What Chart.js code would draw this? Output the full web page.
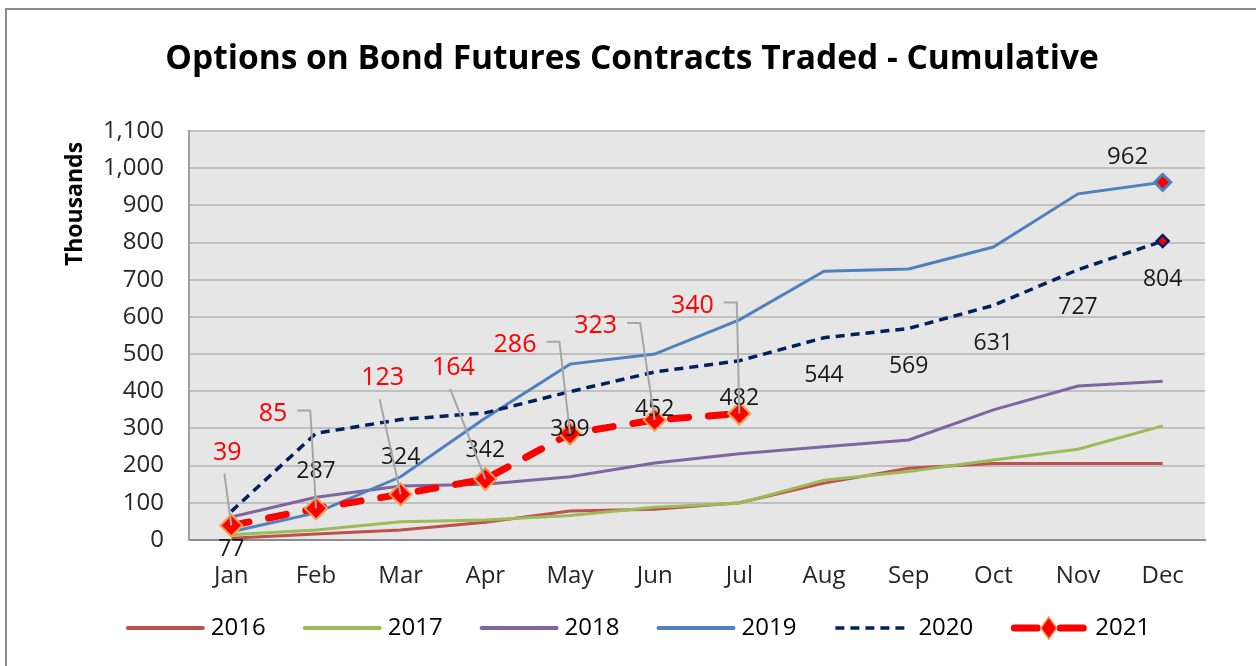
<!DOCTYPE html>
<html>
<head>
<meta charset="utf-8">
<title>Options on Bond Futures Contracts Traded - Cumulative</title>
<script src="https://cdn.jsdelivr.net/npm/chart.js@4.4.0/dist/chart.umd.min.js"></script>
<style>
  html, body { margin: 0; padding: 0; background: #fff; }
  #wrap { width: 1256px; height: 666px; }
</style>
</head>
<body>
<div id="wrap"><canvas id="chart" width="1256" height="666"></canvas></div>
<script>
// data (thousands of contracts, cumulative)
const months = ["Jan", "Feb", "Mar", "Apr", "May", "Jun", "Jul", "Aug", "Sep", "Oct", "Nov", "Dec"];
const years = ["2016", "2017", "2018", "2019", "2020", "2021"];
const v2016 = [5, 16, 27, 48, 78, 83, 100, 153, 193, 206, 206, 206];
const v2017 = [14, 27, 49, 54, 66, 88, 99, 161, 184, 215, 244, 307];
const v2018 = [62, 115, 145, 150, 170, 207, 232, 251, 269, 350, 414, 427];
const v2019 = [22, 73, 170, 328, 473, 500, 592, 723, 729, 788, 931, 962];
const v2020 = [77, 287, 324, 342, 399, 452, 482, 544, 569, 631, 727, 804];
const v2021 = [39, 85, 123, 164, 286, 323, 340, null, null, null, null, null];
const yMin = 0, yMax = 1100, yStep = 100;

const FONT = '"Open Sans", "DejaVu Sans", sans-serif';
const colors = ["#c0504d", "#9bbb59", "#8064a2", "#4f81bd", "#002060", "#ff0000"];

// where the red 2021 labels sit relative to their point, and how the leader line runs
const redLabelPos = [
  [-4, -73, "below"], [-43, -95, "side"], [-18, -116, "below"], [-32, -111, "below"],
  [-55, -89, "side"], [-59, -94, "side"], [-47, -108, "side"]
];

function lastOnly(n, r) {
  return months.map((m, i) => (i === n - 1 ? r : 0));
}

const datasets = [
  { label: years[0], data: v2016, borderColor: colors[0], borderWidth: 3, pointRadius: 0, order: 5 },
  { label: years[1], data: v2017, borderColor: colors[1], borderWidth: 3, pointRadius: 0, order: 4 },
  { label: years[2], data: v2018, borderColor: colors[2], borderWidth: 3, pointRadius: 0, order: 3 },
  {
    label: years[3], data: v2019, borderColor: colors[3], borderWidth: 3, order: 2,
    pointStyle: "rectRot", pointRadius: lastOnly(12, 8), pointBackgroundColor: "#ff0000",
    pointBorderColor: colors[3], pointBorderWidth: 3
  },
  {
    label: years[4], data: v2020, borderColor: colors[4], borderWidth: 3.5, borderDash: [9, 6], order: 1,
    pointStyle: "rectRot", pointRadius: lastOnly(12, 6), pointBackgroundColor: "#ff0000",
    pointBorderColor: colors[4], pointBorderWidth: 2.5
  },
  {
    label: years[5], data: v2021, borderColor: colors[5], borderWidth: 7, borderDash: [18, 20],
    borderCapStyle: "round", order: 0,
    pointStyle: "rectRot", pointRadius: 11, pointBackgroundColor: "#ff0000",
    pointBorderColor: "#f0a050", pointBorderWidth: 2
  }
];

const decor = {
  id: "decor",
  beforeDraw(chart) {
    const { ctx, chartArea: a } = chart;
    ctx.save();
    ctx.fillStyle = "#fff";
    ctx.fillRect(0, 0, chart.width, chart.height);
    ctx.fillStyle = "#e6e6e6";
    ctx.fillRect(a.left, a.top, a.right - a.left, a.bottom - a.top);

    // outer frame (top and left visible)
    ctx.strokeStyle = "#8c8c8c";
    ctx.lineWidth = 2;
    ctx.beginPath();
    ctx.moveTo(6, chart.height + 5);
    ctx.lineTo(6, 9);
    ctx.lineTo(chart.width + 5, 9);
    ctx.stroke();

    // title
    ctx.fillStyle = "#000";
    ctx.font = "bold 33.5px " + FONT;
    ctx.textAlign = "center";
    ctx.textBaseline = "alphabetic";
    ctx.fillText("Options on Bond Futures Contracts Traded - Cumulative", 632, 69);

    // y axis title
    ctx.translate(82, 204);
    ctx.rotate(-Math.PI / 2);
    ctx.font = "bold 23px " + FONT;
    ctx.fillText("Thousands", 0, 0);
    ctx.restore();
  },
  afterDatasetsDraw(chart) {
    const { ctx } = chart;
    ctx.save();
    ctx.textAlign = "center";
    ctx.textBaseline = "middle";

    // 2020 labels under each point
    ctx.fillStyle = "#1a1a1a";
    ctx.font = "23px " + FONT;
    chart.getDatasetMeta(4).data.forEach((pt, i) => {
      ctx.fillText(String(v2020[i]), pt.x, pt.y + 38);
    });

    // 2019 label for last month
    const m19 = chart.getDatasetMeta(3).data;
    const p19 = m19[m19.length - 1];
    ctx.font = "24px " + FONT;
    ctx.fillText(String(v2019[v2019.length - 1]), p19.x - 35, p19.y - 25);

    // 2021 labels with leader lines
    ctx.font = "25px " + FONT;
    ctx.strokeStyle = "#a6a6a6";
    ctx.lineWidth = 2;
    chart.getDatasetMeta(5).data.forEach((pt, i) => {
      if (v2021[i] == null) return;
      const [dx, dy, kind] = redLabelPos[i];
      const tx = pt.x + dx, ty = pt.y + dy;
      const text = String(v2021[i]);
      const w = ctx.measureText(text).width;
      ctx.beginPath();
      if (kind === "side") {
        const sx = tx + w / 2 + 10;
        ctx.moveTo(sx, ty - 3);
        ctx.lineTo(sx + 13, ty - 3);
      } else {
        ctx.moveTo(tx - 3, ty + 21);
      }
      ctx.lineTo(pt.x, pt.y);
      ctx.stroke();
      ctx.fillStyle = "#ff0000";
      ctx.fillText(text, tx, ty);
    });
    ctx.restore();
  },
  afterDraw(chart) {
    // legend
    const { ctx } = chart;
    ctx.save();
    ctx.font = "24px " + FONT;
    ctx.textBaseline = "middle";
    ctx.textAlign = "left";
    const lineLen = 77, gap = 37, y = 628;
    const widths = years.map(t => lineLen + 8 + ctx.measureText(t).width);
    const total = widths.reduce((s, w) => s + w, 0) + gap * (years.length - 1);
    let x = 638 - total / 2;
    years.forEach((t, i) => {
      const ds = datasets[i];
      ctx.strokeStyle = colors[i];
      if (i === 5) {
        ctx.lineWidth = 7;
        ctx.lineCap = "round";
        ctx.setLineDash([]);
        ctx.beginPath();
        ctx.moveTo(x + 4, y); ctx.lineTo(x + 27, y);
        ctx.moveTo(x + 50, y); ctx.lineTo(x + 73, y);
        ctx.stroke();
        const cx = x + lineLen / 2;
        ctx.beginPath();
        ctx.moveTo(cx - 8, y); ctx.lineTo(cx, y - 11); ctx.lineTo(cx + 8, y); ctx.lineTo(cx, y + 11);
        ctx.closePath();
        ctx.fillStyle = "#ff0000";
        ctx.fill();
        ctx.lineWidth = 1.5;
        ctx.strokeStyle = "#f0a050";
        ctx.stroke();
      } else {
        ctx.lineWidth = i === 4 ? 3.5 : 4;
        ctx.lineCap = i === 4 ? "butt" : "round";
        ctx.setLineDash(ds.borderDash || []);
        ctx.beginPath();
        ctx.moveTo(x + 2, y);
        ctx.lineTo(x + lineLen, y);
        ctx.stroke();
      }
      ctx.setLineDash([]);
      ctx.fillStyle = "#000";
      ctx.fillText(t, x + lineLen + 8, y);
      x += widths[i] + gap;
    });
    ctx.restore();
  }
};

function draw() {
  new Chart(document.getElementById("chart"), {
    type: "line",
    data: { labels: months, datasets: datasets },
    options: {
      responsive: false,
      animation: false,
      devicePixelRatio: 1,
      events: [],
      spanGaps: false,
      elements: { line: { tension: 0, fill: false } },
      layout: { padding: { left: 0, top: 131, right: 51, bottom: 46 } },
      plugins: {
        legend: { display: false },
        title: { display: false },
        tooltip: { enabled: false }
      },
      scales: {
        x: {
          offset: true,
          grid: { display: false },
          border: { color: "#8c8c8c", width: 2 },
          ticks: { font: { family: FONT, size: 24 }, color: "#262626", padding: 14, maxRotation: 0 },
          afterFit(s) { s.height = 80; }
        },
        y: {
          min: yMin,
          max: yMax,
          ticks: {
            stepSize: yStep,
            padding: 25,
            font: { family: FONT, size: 24 },
            color: "#262626",
            callback: v => v.toLocaleString("en-US")
          },
          grid: { color: "#c0c0c0", lineWidth: 2, drawTicks: false },
          border: { color: "#a0a0a0", width: 2 },
          afterFit(s) { s.width = 189; }
        }
      }
    },
    plugins: [decor]
  });
}

Promise.all([
  document.fonts.load('24px "Open Sans"'),
  document.fonts.load('bold 30px "Open Sans"')
]).then(draw, draw);
</script>
</body>
</html>
